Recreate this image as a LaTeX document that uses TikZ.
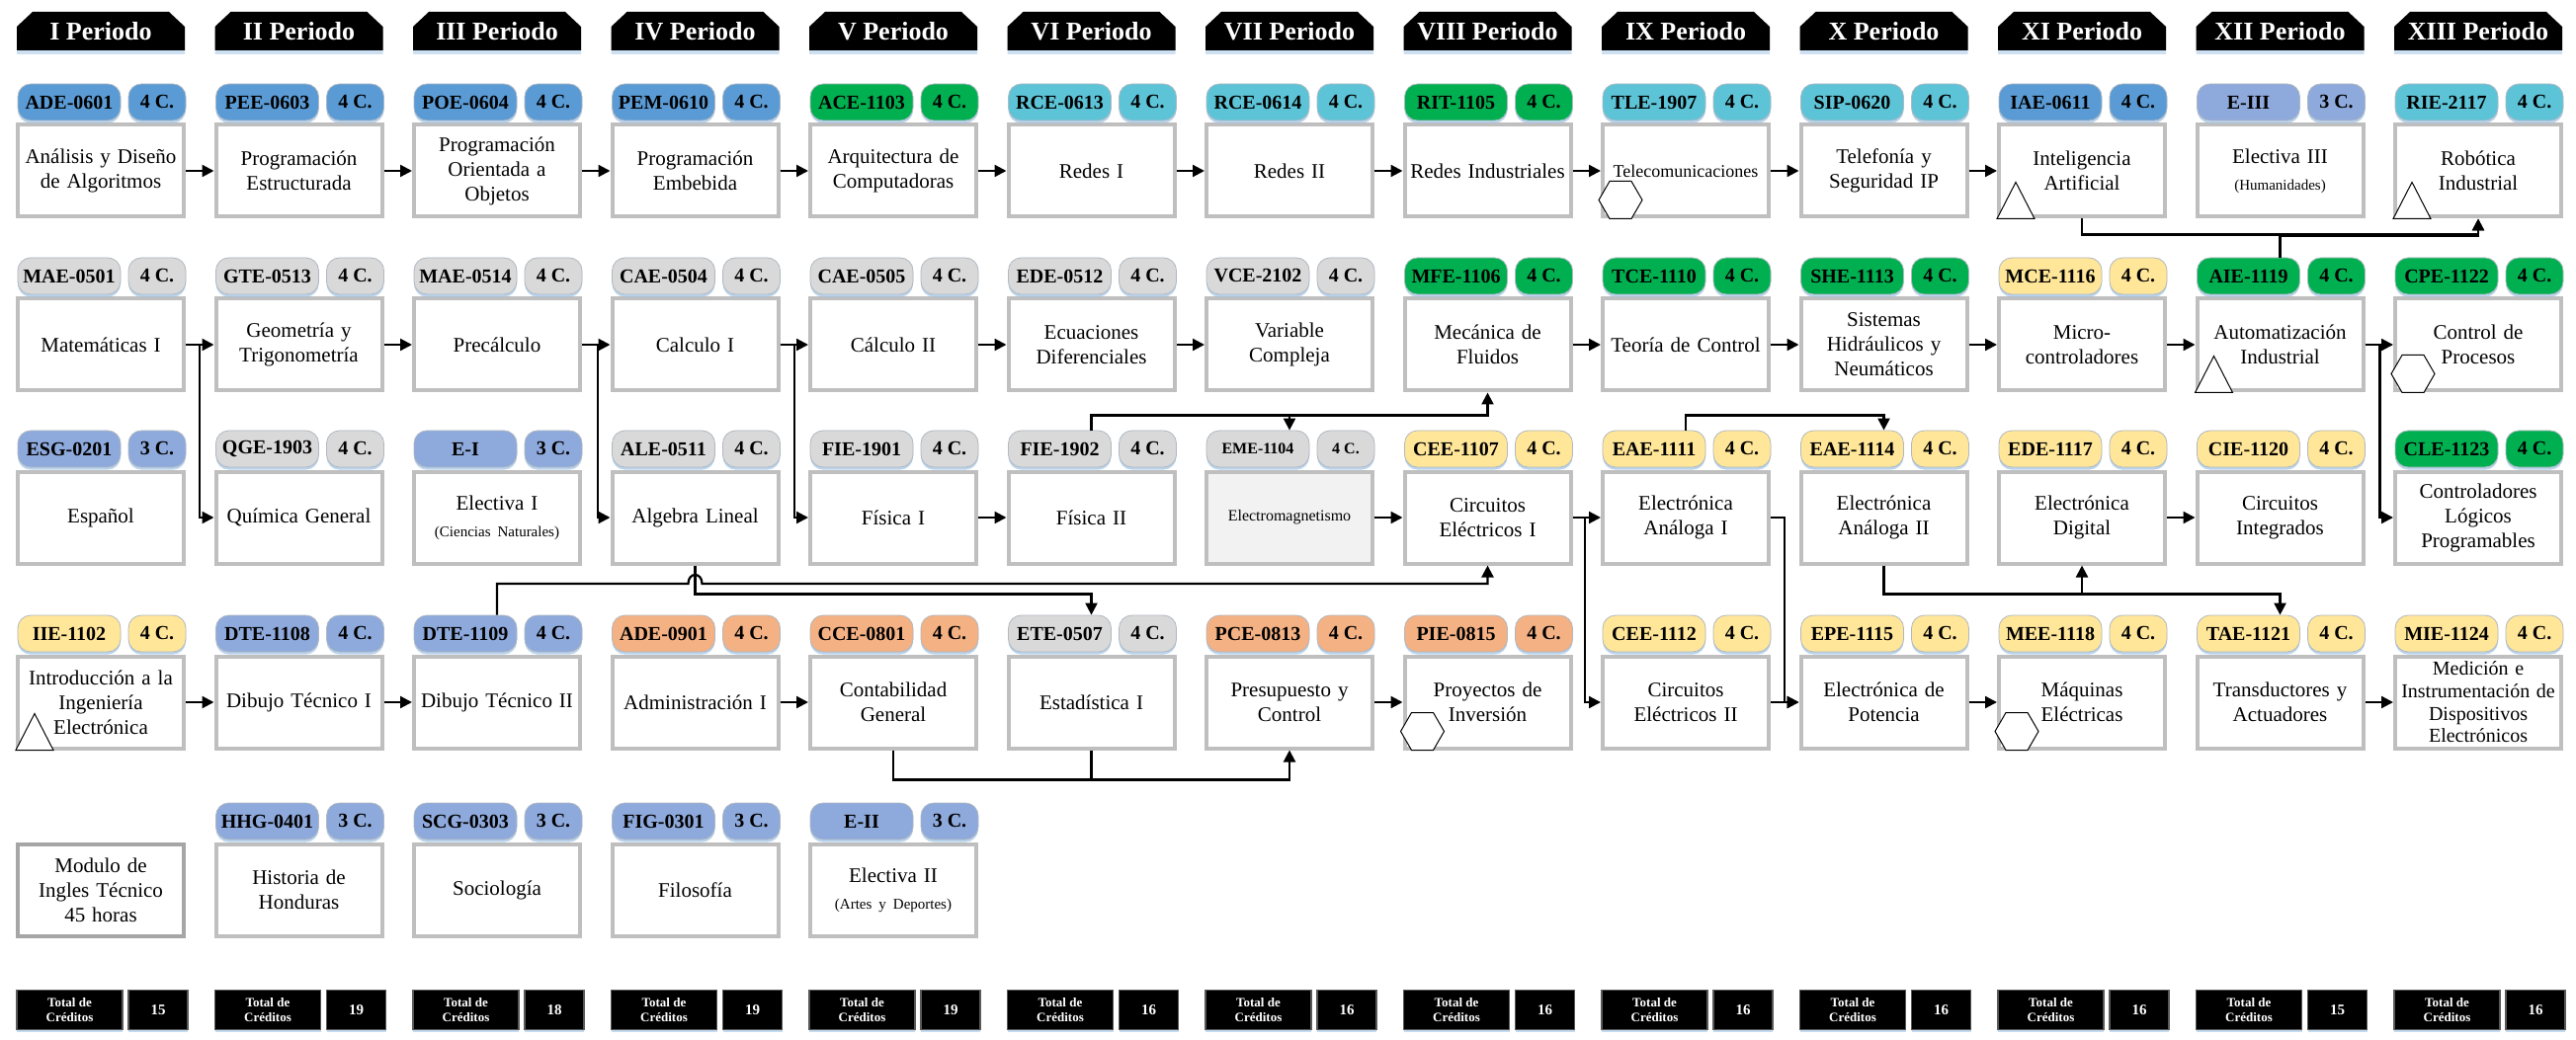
\documentclass[tikz,border=0pt]{standalone}
\usepackage{fontspec}
\setmainfont{Liberation Serif}
\usetikzlibrary{arrows.meta,shadows}
\definecolor{cblue}{HTML}{5B9BD5}
\definecolor{ccyan}{HTML}{5DC4D7}
\definecolor{cgreen}{HTML}{00B050}
\definecolor{cgray}{HTML}{D9D9D9}
\definecolor{clav}{HTML}{8EA9DB}
\definecolor{cyel}{HTML}{FFE699}
\definecolor{corg}{HTML}{F4B183}
\definecolor{boxline}{HTML}{BFBFBF}
\definecolor{modline}{HTML}{A6A6A6}
\definecolor{glow}{HTML}{9DC3E6}
\definecolor{pillline}{HTML}{B0B8C0}
\definecolor{darkline}{HTML}{595959}
\definecolor{emefill}{HTML}{F2F2F2}
\def\pillfs{\fontsize{10}{12}\selectfont}
\tikzset{
 box/.style={draw=boxline, line width=2pt, fill=white, minimum width=84pt, minimum height=46.5pt,
   text width=84pt, inner xsep=0pt, inner ysep=0pt, align=center, font=\fontsize{10.5}{12.5}\selectfont},
 pill/.style={rounded corners=6.5pt, minimum height=18.5pt, inner sep=0pt, draw=pillline, line width=0.4pt,
   font=\bfseries\pillfs, drop shadow={shadow xshift=0pt, shadow yshift=-1.3pt, fill=glow, opacity=0.7}},
 arr/.style={draw, line width=1.1pt, -{Triangle[length=6pt,width=6pt]}},
 conn/.style={draw, line width=1.1pt},
 marker/.style={draw=black, line width=0.5pt, fill=white},
 hdr/.style={text=white, font=\bfseries\fontsize{13}{15}\selectfont, inner sep=0pt},
 tot/.style={fill=black, draw=darkline, line width=0.8pt, text=white, font=\bfseries\fontsize{6.5}{7.2}\selectfont,
   align=center, inner sep=0pt, minimum height=20pt,
   drop shadow={shadow xshift=0pt, shadow yshift=-1.3pt, fill=glow, opacity=0.6}},
}
% [box opts]{id}{col}{rowtop}{color}{code}{credits}{text}
\newcommand\subj[8][]{%
  \pgfmathsetmacro\crsx{102+200.5*(#3-1)}%
  \node[box,#1] (#2) at (\crsx,#4+48) {#8};
  \node[pill,fill=#5,minimum width=52pt] (#2c) at (\crsx-32,#4-21.5) {#6};
  \node[pill,fill=#5,minimum width=29pt] (#2k) at (\crsx+57,#4-21.5) {#7};
}
\newcommand\perhead[3]{%
  \pgfmathsetmacro\crsx{102+200.5*(#2-1)}%
  \fill[black, drop shadow={shadow xshift=0pt, shadow yshift=-2pt, fill=glow, opacity=0.5}]
    (\crsx-85,51) -- (\crsx-85,27) -- (\crsx-69,12) -- (\crsx+69,12) -- (\crsx+85,27) -- (\crsx+85,51) -- cycle;
  \node[hdr] (#1) at (\crsx,32) {#3};
}
\newcommand\credtot[3]{%
  \pgfmathsetmacro\crsx{102+200.5*(#2-1)}%
  \node[tot, minimum width=53.5pt] (#1a) at (\crsx-31.5,1022.5) {Total de\\Créditos};
  \node[tot, minimum width=30pt, font=\bfseries\fontsize{7.5}{9}\selectfont] (#1b) at (\crsx+58,1022.5) {#3};
}
\newcommand\tri[1]{\draw[marker] (#1.south west) -- ++(38,0) -- ++(-19,-37) -- cycle;}
\newcommand\hexa[1]{\draw[marker] ([shift={(-2,-19)}]#1.south west) -- ++(11,-19) -- ++(22,0) -- ++(11,19) -- ++(-11,19) -- ++(-22,0) -- cycle;}
\newcommand\smalltxt[1]{\\[1pt]\mbox{\fontsize{7.5}{9}\selectfont #1}}
\begin{document}
\begin{tikzpicture}[x=0.5pt,y=-0.5pt]
\fill[white] (0,0) rectangle (2607,1053);
\useasboundingbox (0,0) rectangle (2607,1053);
\def\ra{125}\def\rb{301}\def\rc{476}\def\rd{663}\def\re{853}
% headers
\perhead{h1}{1}{I Periodo}
\perhead{h2}{2}{II Periodo}
\perhead{h3}{3}{III Periodo}
\perhead{h4}{4}{IV Periodo}
\perhead{h5}{5}{V Periodo}
\perhead{h6}{6}{VI Periodo}
\perhead{h7}{7}{VII Periodo}
\perhead{h8}{8}{VIII Periodo}
\perhead{h9}{9}{IX Periodo}
\perhead{h10}{10}{X Periodo}
\perhead{h11}{11}{XI Periodo}
\perhead{h12}{12}{XII Periodo}
\perhead{h13}{13}{XIII Periodo}
% row 1
\subj{ade0601}{1}{\ra}{cblue}{ADE-0601}{4 C.}{Análisis y Diseño\\de Algoritmos}
\subj{pee0603}{2}{\ra}{cblue}{PEE-0603}{4 C.}{Programación\\Estructurada}
\subj{poe0604}{3}{\ra}{cblue}{POE-0604}{4 C.}{Programación\\Orientada a\\Objetos}
\subj{pem0610}{4}{\ra}{cblue}{PEM-0610}{4 C.}{Programación\\Embebida}
\subj{ace1103}{5}{\ra}{cgreen}{ACE-1103}{4 C.}{Arquitectura de\\Computadoras}
\subj{rce0613}{6}{\ra}{ccyan}{RCE-0613}{4 C.}{Redes I}
\subj{rce0614}{7}{\ra}{ccyan}{RCE-0614}{4 C.}{Redes II}
\subj{rit1105}{8}{\ra}{cgreen}{RIT-1105}{4 C.}{Redes Industriales}
\subj[font=\fontsize{9}{11}\selectfont]{tle1907}{9}{\ra}{ccyan}{TLE-1907}{4 C.}{Telecomunicaciones}
\subj{sip0620}{10}{\ra}{ccyan}{SIP-0620}{4 C.}{Telefonía y\\Seguridad IP}
\subj{iae0611}{11}{\ra}{cblue}{IAE-0611}{4 C.}{Inteligencia\\Artificial}
\subj{eiii}{12}{\ra}{clav}{E-III}{3 C.}{Electiva III\smalltxt{(Humanidades)}}
\subj{rie2117}{13}{\ra}{ccyan}{RIE-2117}{4 C.}{Robótica\\Industrial}
% row 2
\subj{mae0501}{1}{\rb}{cgray}{MAE-0501}{4 C.}{Matemáticas I}
\subj{gte0513}{2}{\rb}{cgray}{GTE-0513}{4 C.}{Geometría y\\Trigonometría}
\subj{mae0514}{3}{\rb}{cgray}{MAE-0514}{4 C.}{Precálculo}
\subj{cae0504}{4}{\rb}{cgray}{CAE-0504}{4 C.}{Calculo I}
\subj{cae0505}{5}{\rb}{cgray}{CAE-0505}{4 C.}{Cálculo II}
\subj{ede0512}{6}{\rb}{cgray}{EDE-0512}{4 C.}{Ecuaciones\\Diferenciales}
\subj{vce2102}{7}{\rb}{cgray}{VCE-2102}{4 C.}{Variable\\Compleja}
\subj{mfe1106}{8}{\rb}{cgreen}{MFE-1106}{4 C.}{Mecánica de\\Fluidos}
\subj{tce1110}{9}{\rb}{cgreen}{TCE-1110}{4 C.}{Teoría de Control}
\subj{she1113}{10}{\rb}{cgreen}{SHE-1113}{4 C.}{Sistemas\\Hidráulicos y\\Neumáticos}
\subj{mce1116}{11}{\rb}{cyel}{MCE-1116}{4 C.}{Micro-\\controladores}
\subj{aie1119}{12}{\rb}{cgreen}{AIE-1119}{4 C.}{Automatización\\Industrial}
\subj{cpe1122}{13}{\rb}{cgreen}{CPE-1122}{4 C.}{Control de\\Procesos}
% row 3
\subj{esg0201}{1}{\rc}{clav}{ESG-0201}{3 C.}{Español}
\subj{qge1903}{2}{\rc}{cgray}{QGE-1903}{4 C.}{Química General}
\subj{ei}{3}{\rc}{clav}{E-I}{3 C.}{Electiva I\smalltxt{(Ciencias Naturales)}}
\subj{ale0511}{4}{\rc}{cgray}{ALE-0511}{4 C.}{Algebra Lineal}
\subj{fie1901}{5}{\rc}{cgray}{FIE-1901}{4 C.}{Física I}
\subj{fie1902}{6}{\rc}{cgray}{FIE-1902}{4 C.}{Física II}
\def\pillfs{\fontsize{8}{10}\selectfont}
\subj[fill=emefill,font=\fontsize{8}{10}\selectfont]{eme1104}{7}{\rc}{cgray}{EME-1104}{4 C.}{Electromagnetismo}
\def\pillfs{\fontsize{10}{12}\selectfont}
\subj{cee1107}{8}{\rc}{cyel}{CEE-1107}{4 C.}{Circuitos\\Eléctricos I}
\subj{eae1111}{9}{\rc}{cyel}{EAE-1111}{4 C.}{Electrónica\\Análoga I}
\subj{eae1114}{10}{\rc}{cyel}{EAE-1114}{4 C.}{Electrónica\\Análoga II}
\subj{ede1117}{11}{\rc}{cyel}{EDE-1117}{4 C.}{Electrónica\\Digital}
\subj{cie1120}{12}{\rc}{cyel}{CIE-1120}{4 C.}{Circuitos\\Integrados}
\subj{cle1123}{13}{\rc}{cgreen}{CLE-1123}{4 C.}{Controladores\\Lógicos\\Programables}
% row 4
\subj{iie1102}{1}{\rd}{cyel}{IIE-1102}{4 C.}{Introducción a la\\Ingeniería\\Electrónica}
\subj{dte1108}{2}{\rd}{clav}{DTE-1108}{4 C.}{Dibujo Técnico I}
\subj{dte1109}{3}{\rd}{clav}{DTE-1109}{4 C.}{Dibujo Técnico II}
\subj{ade0901}{4}{\rd}{corg}{ADE-0901}{4 C.}{Administración I}
\subj{cce0801}{5}{\rd}{corg}{CCE-0801}{4 C.}{Contabilidad\\General}
\subj{ete0507}{6}{\rd}{cgray}{ETE-0507}{4 C.}{Estadística I}
\subj{pce0813}{7}{\rd}{corg}{PCE-0813}{4 C.}{Presupuesto y\\Control}
\subj{pie0815}{8}{\rd}{corg}{PIE-0815}{4 C.}{Proyectos de\\Inversión}
\subj{cee1112}{9}{\rd}{cyel}{CEE-1112}{4 C.}{Circuitos\\Eléctricos II}
\subj{epe1115}{10}{\rd}{cyel}{EPE-1115}{4 C.}{Electrónica de\\Potencia}
\subj{mee1118}{11}{\rd}{cyel}{MEE-1118}{4 C.}{Máquinas\\Eléctricas}
\subj{tae1121}{12}{\rd}{cyel}{TAE-1121}{4 C.}{Transductores y\\Actuadores}
\subj[font=\fontsize{10}{11.3}\selectfont]{mie1124}{13}{\rd}{cyel}{MIE-1124}{4 C.}{Medición e\\Instrumentación de\\Dispositivos\\Electrónicos}
% row 5
\node[box,draw=modline] (mod) at (102,\re+48) {Modulo de\\Ingles Técnico\\45 horas};
\subj{hhg0401}{2}{\re}{clav}{HHG-0401}{3 C.}{Historia de\\Honduras}
\subj{scg0303}{3}{\re}{clav}{SCG-0303}{3 C.}{Sociología}
\subj{fig0301}{4}{\re}{clav}{FIG-0301}{3 C.}{Filosofía}
\subj{eii}{5}{\re}{clav}{E-II}{3 C.}{Electiva II\smalltxt{(Artes y Deportes)}}
% markers
\tri{iie1102}\tri{iae0611}\tri{rie2117}\tri{aie1119}
\hexa{tle1907}\hexa{cpe1122}\hexa{pie0815}\hexa{mee1118}
% totals
\credtot{t1}{1}{15}\credtot{t2}{2}{19}\credtot{t3}{3}{18}\credtot{t4}{4}{19}
\credtot{t5}{5}{19}\credtot{t6}{6}{16}\credtot{t7}{7}{16}\credtot{t8}{8}{16}
\credtot{t9}{9}{16}\credtot{t10}{10}{16}\credtot{t11}{11}{16}\credtot{t12}{12}{15}
\credtot{t13}{13}{16}
% row 1 connectors
\draw[arr] (ade0601.east) -- (pee0603.west);
\draw[arr] (pee0603.east) -- (poe0604.west);
\draw[arr] (poe0604.east) -- (pem0610.west);
\draw[arr] (pem0610.east) -- (ace1103.west);
\draw[arr] (ace1103.east) -- (rce0613.west);
\draw[arr] (rce0613.east) -- (rce0614.west);
\draw[arr] (rce0614.east) -- (rit1105.west);
\draw[arr] (rit1105.east) -- (tle1907.west);
\draw[arr] (tle1907.east) -- (sip0620.west);
\draw[arr] (sip0620.east) -- (iae0611.west);
\draw[arr] (iae0611.south) -- ++(0,16) -| (rie2117.south);
\draw[arr] (aie1119.center |- aie1119c.north) -- ++(0,-22) -| (rie2117.south);
% row 2 connectors
\draw[arr] (mae0501.east) -- (gte0513.west);
\draw[arr] (mae0501.east) -- ++(14,0) |- (qge1903.west);
\draw[arr] (gte0513.east) -- (mae0514.west);
\draw[arr] (mae0514.east) -- (cae0504.west);
\draw[arr] (mae0514.east) -- ++(16,0) |- (ale0511.west);
\draw[arr] (cae0504.east) -- (cae0505.west);
\draw[arr] (cae0504.east) -- ++(14.5,0) |- (fie1901.west);
\draw[arr] (cae0505.east) -- (ede0512.west);
\draw[arr] (ede0512.east) -- (vce2102.west);
\draw[arr] (mfe1106.east) -- (tce1110.west);
\draw[arr] (tce1110.east) -- (she1113.west);
\draw[arr] (she1113.east) -- (mce1116.west);
\draw[arr] (mce1116.east) -- (aie1119.west);
\draw[arr] (aie1119.east) -- (cpe1122.west);
\draw[arr] (aie1119.east) -- ++(15,0) |- (cle1123.west);
% row 3 connectors
\draw[arr] (fie1901.east) -- (fie1902.west);
\draw[arr] (eme1104.east) -- (cee1107.west);
\draw[arr] (cee1107.east) -- (eae1111.west);
\draw[arr] (cee1107.east) -- ++(12.5,0) |- (cee1112.west);
\draw[arr] (ede1117.east) -- (cie1120.west);
\draw[arr] (fie1902.center |- fie1902c.north) -- ++(0,-15) -| (eme1104.center |- eme1104c.north);
\draw[arr] (fie1902.center |- fie1902c.north) -- ++(0,-15) -| (mfe1106.south);
\draw[arr] (eae1111.center |- eae1111c.north) -- ++(0,-15) -| (eae1114.center |- eae1114c.north);
\draw[arr] (eae1114.south) -- ++(0,29) -| (ede1117.south);
\draw[arr] (eae1114.south) -- ++(0,29) -| (tae1121.center |- tae1121c.north);
\draw[arr] (eae1111.east) -- ++(14,0) |- (epe1115.west);
\draw[arr] (ale0511.south) -- ++(0,29) -| (ete0507.center |- ete0507c.north);
\coordinate (hy) at (0,591);
\path (ale0511.south |- hy) coordinate (hopc);
\coordinate (hopL) at ([xshift=-3.5pt]hopc);
\coordinate (hopR) at ([xshift=3.5pt]hopc);
\draw[arr] (dte1109.center |- dte1109c.north) |- (hopL) .. controls ([yshift=6pt]hopL) and ([yshift=6pt]hopR) .. (hopR) -| (cee1107.south);
% row 4 connectors
\draw[arr] (iie1102.east) -- (dte1108.west);
\draw[arr] (dte1108.east) -- (dte1109.west);
\draw[arr] (ade0901.east) -- (cce0801.west);
\draw[arr] (pce0813.east) -- (pie0815.west);
\draw[arr] (cee1112.east) -- (epe1115.west);
\draw[arr] (epe1115.east) -- (mee1118.west);
\draw[arr] (tae1121.east) -- (mie1124.west);
\draw[conn] (ete0507.south) -- ++(0,30);
\draw[arr] (cce0801.south) -- ++(0,30) -| (pce0813.south);
\end{tikzpicture}
\end{document}
